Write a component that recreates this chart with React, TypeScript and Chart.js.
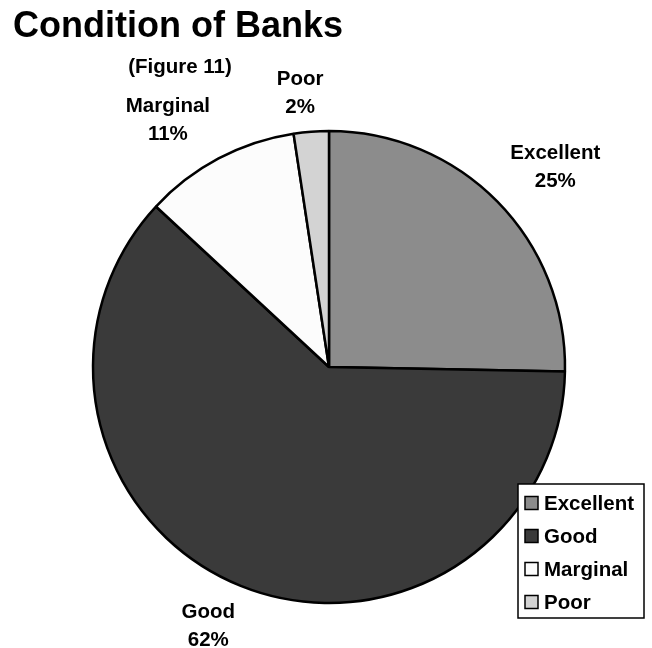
import React, { useEffect, useRef } from "react";
import { Chart, registerables } from "chart.js";

Chart.register(...registerables);

const categories = ["Excellent", "Good", "Marginal", "Poor"];
const shares = [25.3, 61.6, 10.7, 2.4];
const sliceColors = ["#8c8c8c", "#3a3a3a", "#fcfcfc", "#d3d3d3"];
const titleText = "Condition of Banks";
const subtitleText = "(Figure 11)";

// label placement style: distance from centre (px) and angular nudge (deg)
const labelDist = [302, 286, 295, 275];
const labelShift = [3.0, 3.0, -5.2, -1.7];

const FONT = "'Liberation Sans', Arial, Helvetica, sans-serif";

const overlayPlugin = {
  id: "overlay",
  afterDraw(chart: any) {
    const ctx = chart.ctx as CanvasRenderingContext2D;
    const meta = chart.getDatasetMeta(0);
    const data = chart.data.datasets[0].data as number[];
    const total = data.reduce((a, b) => a + b, 0);
    ctx.save();
    ctx.fillStyle = "#000";

    // title
    ctx.font = `bold 36px ${FONT}`;
    ctx.textAlign = "left";
    ctx.textBaseline = "alphabetic";
    ctx.fillText(titleText, 13, 37);

    // subtitle
    ctx.font = `bold 20.5px ${FONT}`;
    ctx.textAlign = "center";
    ctx.textBaseline = "middle";
    ctx.fillText(subtitleText, 180, 67);

    // slice labels
    meta.data.forEach((arc: any, i: number) => {
      const p = arc.getProps(["x", "y", "startAngle", "endAngle"], true);
      const mid = (p.startAngle + p.endAngle) / 2 + (labelShift[i] * Math.PI) / 180;
      const lx = p.x + Math.cos(mid) * labelDist[i];
      const ly = p.y + Math.sin(mid) * labelDist[i];
      const pct = Math.round((data[i] / total) * 100) + "%";
      ctx.fillText(String(chart.data.labels[i]), lx, ly - 14);
      ctx.fillText(pct, lx, ly + 14);
    });

    // legend
    const bx = 518, by = 484, bw = 126, bh = 134;
    ctx.fillStyle = "#fff";
    ctx.fillRect(bx, by, bw, bh);
    ctx.strokeStyle = "#000";
    ctx.lineWidth = 1.5;
    ctx.strokeRect(bx, by, bw, bh);
    ctx.textAlign = "left";
    ctx.textBaseline = "middle";
    chart.data.labels.forEach((lab: string, i: number) => {
      const cy = 503 + i * 33;
      ctx.fillStyle = sliceColors[i];
      ctx.fillRect(525, cy - 6.5, 13, 13);
      ctx.lineWidth = 1.5;
      ctx.strokeStyle = "#000";
      ctx.strokeRect(525, cy - 6.5, 13, 13);
      ctx.fillStyle = "#000";
      ctx.fillText(lab, 544, cy + 1);
    });
    ctx.restore();
  },
};

export default function App() {
  const ref = useRef<HTMLCanvasElement | null>(null);
  useEffect(() => {
    if (!ref.current) return;
    const chart = new Chart(ref.current, {
      type: "pie",
      data: {
        labels: categories,
        datasets: [
          {
            data: shares,
            backgroundColor: sliceColors,
            borderColor: "#000",
            borderWidth: 2.5,
          },
        ],
      },
      options: {
        responsive: false,
        animation: false,
        devicePixelRatio: 1,
        radius: 236,
        layout: { padding: { left: 92, right: 86, top: 130, bottom: 44 } },
        plugins: {
          legend: { display: false },
          title: { display: false },
          tooltip: { enabled: false },
        },
      } as any,
      plugins: [overlayPlugin],
    });
    return () => chart.destroy();
  }, []);
  return (
    <div style={{ position: "fixed", left: 0, top: 0, width: 652, height: 648, background: "#fff" }}>
      <canvas ref={ref} width={652} height={648} />
    </div>
  );
}
